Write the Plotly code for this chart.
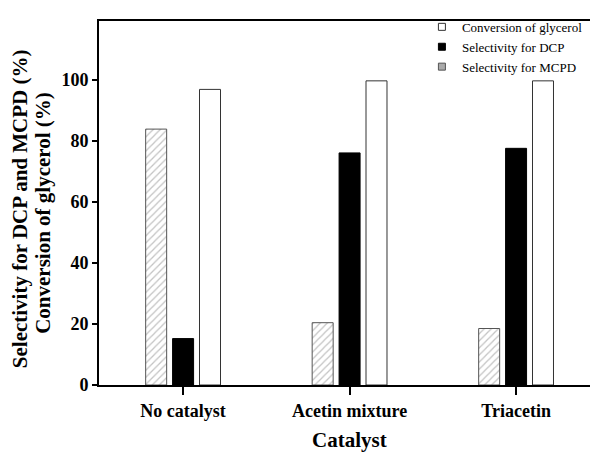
import plotly.graph_objects as go

categories = ["No catalyst", "Acetin mixture", "Triacetin"]
mcpd = [83.8, 20.4, 18.5]
dcp = [15.2, 76.0, 77.5]
conversion = [96.8, 99.6, 99.6]
y_ticks = [0, 20, 40, 60, 80, 100]

y_title_1 = "Selectivity for DCP and MCPD (%)"
y_title_2 = "Conversion of glycerol (%)"
x_title = "Catalyst"

font_family = "'Liberation Serif', 'Times New Roman', Times, 'DejaVu Serif', serif"

fig = go.Figure()
fig.add_trace(go.Bar(
    x=categories, y=mcpd, name="Selectivity for MCPD", showlegend=False,
    marker=dict(color="white", line=dict(color="#555555", width=1),
                pattern=dict(shape="/", fgcolor="#888888", size=5, solidity=0.25)),
))
fig.add_trace(go.Bar(
    x=categories, y=dcp, name="Selectivity for DCP", showlegend=False,
    marker=dict(color="black", line=dict(color="black", width=1)),
))
fig.add_trace(go.Bar(
    x=categories, y=conversion, name="Conversion of glycerol", showlegend=False,
    marker=dict(color="white", line=dict(color="#333333", width=1)),
))

# legend proxies (small square symbols as in the reference)
legend_items = [
    ("Conversion of glycerol", "white", "#333333"),
    ("Selectivity for DCP", "black", "black"),
    ("Selectivity for MCPD", "#aaaaaa", "#555555"),
]
for name, fill, edge in legend_items:
    fig.add_trace(go.Scatter(
        x=[None], y=[None], mode="markers", name=name,
        marker=dict(symbol="square", size=7, color=fill, line=dict(color=edge, width=1)),
    ))

fig.update_layout(
    width=590, height=451,
    margin=dict(l=91, r=6, t=4, b=74),
    paper_bgcolor="white", plot_bgcolor="white",
    barmode="group", bargap=0.515, bargroupgap=0.22,
    font=dict(family=font_family, color="black"),
    showlegend=True,
    legend=dict(x=0.655, y=1.025, xanchor="left", yanchor="top",
                font=dict(size=13, family=font_family),
                bgcolor="rgba(0,0,0,0)", tracegroupgap=0),
    xaxis=dict(
        range=[-0.505, 2.456], showline=True, linecolor="black", linewidth=2,
        mirror=True, ticks="outside", ticklen=8, tickwidth=2, tickcolor="black",
        tickfont=dict(size=18, family=font_family, weight="bold"),
        showgrid=False, automargin=False,
    ),
    yaxis=dict(
        range=[0, 119.2], showline=True, linecolor="black", linewidth=2,
        ticks="outside", ticklen=5, tickwidth=2, tickcolor="black",
        tickvals=y_ticks, ticktext=[str(v) for v in y_ticks],
        tickfont=dict(size=18, family=font_family, weight="bold"),
        showgrid=False, zeroline=False, automargin=False,
    ),
    annotations=[
        dict(text="<b>" + y_title_1 + "</b>", xref="paper", yref="paper", x=0, y=0.483,
             xshift=-79, textangle=-90, showarrow=False, xanchor="center", yanchor="middle",
             font=dict(size=21, family=font_family)),
        dict(text="<b>" + y_title_2 + "</b>", xref="paper", yref="paper", x=0, y=0.473,
             xshift=-56, textangle=-90, showarrow=False, xanchor="center", yanchor="middle",
             font=dict(size=21, family=font_family)),
        dict(text="<b>" + x_title + "</b>", xref="paper", yref="paper", x=0.509, y=0,
             yshift=-55, showarrow=False, xanchor="center", yanchor="middle",
             font=dict(size=21, family=font_family)),
    ],
)

fig.write_html("out.html")
